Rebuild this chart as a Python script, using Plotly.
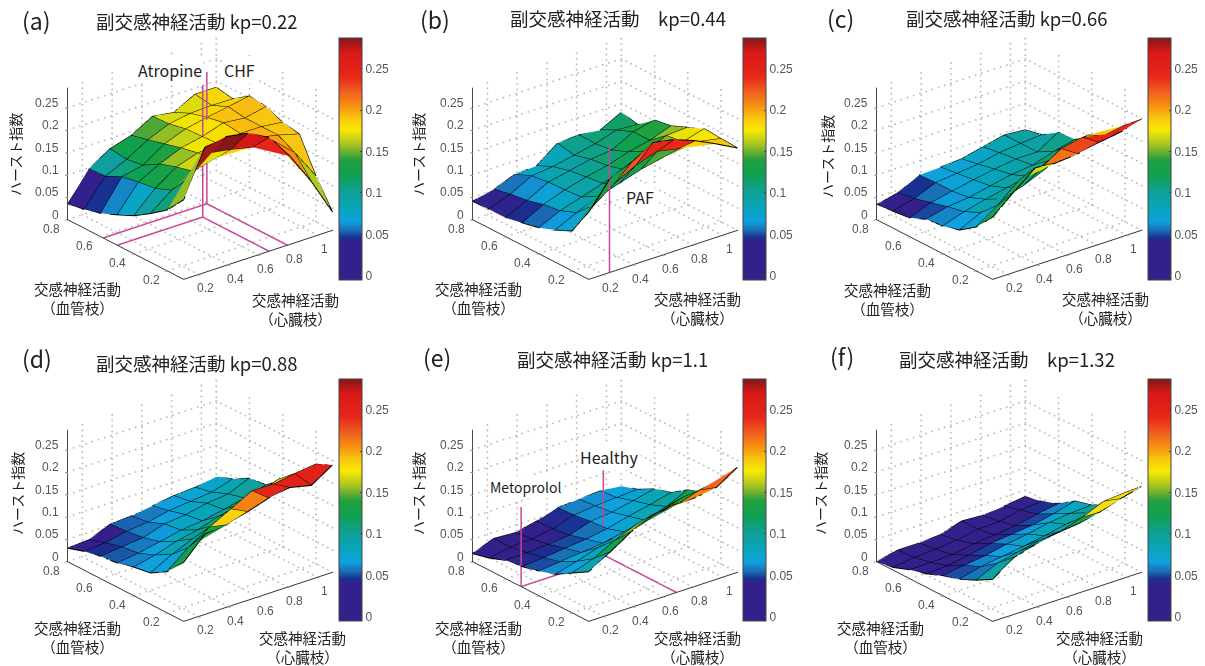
import plotly.graph_objects as go

W, H = 1205, 666
X_VALS = [0.1, 0.243, 0.386, 0.529, 0.671, 0.814, 0.957, 1.1]
Y_VALS = [0.8, 0.7, 0.6, 0.5, 0.4, 0.3, 0.2, 0.1]
X_TICKS = [0.2, 0.4, 0.6, 0.8, 1]
Y_TICKS = [0.2, 0.4, 0.6, 0.8]
Z_TICKS = [0, 0.05, 0.1, 0.15, 0.2, 0.25]
Z_TOP = 0.295
C_MIN, C_MAX = -0.005, 0.287

Z_A = [[.034,.098,.127,.141,.168,.161,.186,.186],
       [.042,.100,.122,.150,.170,.178,.180,.179],
       [.052,.118,.128,.160,.178,.188,.196,.205],
       [.068,.125,.150,.170,.180,.195,.190,.200],
       [.085,.130,.162,.178,.182,.190,.190,.184],
       [.109,.145,.172,.185,.195,.200,.190,.177],
       [.136,.190,.233,.225,.214,.212,.170,.102],
       [.178,.280,.288,.280,.255,.197,.125,.041]]
Z_B = [[.041,.052,.070,.073,.108,.111,.106,.130],
       [.042,.060,.085,.090,.100,.110,.125,.122],
       [.042,.065,.090,.100,.110,.115,.140,.151],
       [.050,.075,.092,.105,.115,.130,.140,.157],
       [.058,.080,.095,.110,.125,.150,.170,.173],
       [.072,.095,.115,.130,.145,.155,.175,.189],
       [.089,.130,.165,.190,.205,.195,.195,.186],
       [.150,.210,.230,.259,.250,.232,.209,.184]]
Z_C = [[.033,.044,.068,.070,.073,.084,.095,.091],
       [.038,.050,.070,.075,.080,.090,.095,.099],
       [.042,.060,.070,.080,.088,.095,.095,.124],
       [.058,.070,.075,.085,.095,.100,.115,.127],
       [.062,.078,.090,.100,.110,.130,.150,.152],
       [.072,.095,.110,.125,.145,.170,.190,.181],
       [.098,.130,.170,.180,.210,.220,.208,.216],
       [.139,.180,.218,.214,.218,.228,.235,.248]]
Z_D = [[.030,.033,.052,.055,.062,.069,.072,.080],
       [.042,.045,.055,.060,.070,.075,.080,.094],
       [.050,.055,.060,.075,.080,.090,.095,.115],
       [.054,.060,.070,.080,.085,.095,.105,.119],
       [.064,.075,.090,.100,.115,.125,.140,.150],
       [.070,.095,.115,.130,.145,.165,.185,.173],
       [.092,.130,.160,.185,.210,.209,.217,.223],
       [.132,.180,.184,.198,.213,.221,.210,.240]]
Z_E = [[.018,.036,.033,.043,.058,.061,.064,.059],
       [.027,.035,.038,.045,.060,.065,.068,.071],
       [.041,.042,.045,.050,.065,.070,.080,.091],
       [.046,.050,.055,.060,.068,.080,.090,.102],
       [.055,.060,.065,.070,.080,.090,.105,.127],
       [.067,.080,.095,.105,.115,.130,.145,.143],
       [.089,.105,.130,.150,.160,.165,.180,.190],
       [.111,.139,.169,.191,.198,.198,.205,.235]]
Z_F = [[.000,.010,.010,.013,.028,.025,.030,.036],
       [.006,.012,.015,.020,.028,.030,.040,.044],
       [.020,.020,.022,.030,.035,.040,.050,.058],
       [.030,.032,.040,.050,.055,.060,.070,.083],
       [.045,.052,.058,.068,.075,.085,.090,.093],
       [.056,.068,.075,.082,.090,.100,.110,.113],
       [.073,.095,.105,.115,.120,.135,.155,.159],
       [.094,.127,.140,.150,.155,.165,.180,.192]]

NEAR_A = [.155, .280, .285, .270, .245, .205, .160]
NEAR_B = [.130, .135, .225, .245, .240, .185, .190]
NEAR_C = [.125, .130, .170, .215, .230, .245, .245]
NEAR_D = [.125, .140, .185, .210, .245, .250, .250]
NEAR_E = [.090, .125, .150, .178, .190, .210, .220]
NEAR_F = [.095, .105, .110, .110, .130, .180, .180]

BAR_VALUES = [-.005,.040,.046,.055,.066,.080,.100,.122,.140,.150,.160,.176,.190,.205,.222,.240,.270,.287]
BAR_COLORS = ["#34208a","#34208a","#1a2f90","#1a6fb5","#10a0e0","#08a5bd","#0fa09a","#10a050","#20a040",
              "#70b030","#b0c820","#f8e800","#f8c810","#f89010","#f06020","#e82818","#d81818","#801818"]
COLORSCALE = [[(v - C_MIN) / (C_MAX - C_MIN), c] for v, c in zip(BAR_VALUES, BAR_COLORS)]

PANELS = [
    dict(z=Z_A, near=NEAR_A, dx=0, dy=0, letter="(a)", lp=(36, 20), title="副交感神経活動 kp=0.22", tp=(197, 21), zl=(15, 155),
         yl=(77, 289), xl=(295, 300), bar=(339, 38),
         pink=[[(.674, .5, 0), (.674, .5, Z_TOP)], [(.797, .585, 0), (.797, .585, Z_TOP)],
               [(.674, .5, 0), (.1, .5, 0)], [(.674, .5, 0), (.674, .1, 0)],
               [(.797, .585, 0), (.1, .585, 0)], [(.797, .585, 0), (.797, .1, 0)]],
         notes=[("Atropine", 170, 70, 16), ("CHF", 239, 70, 16)]),
    dict(z=Z_B, near=NEAR_B, dx=405, dy=0, letter="(b)", lp=(435, 19), title="副交感神経活動　kp=0.44", tp=(618, 18), zl=(418, 155),
         yl=(479, 289), xl=(697, 299), bar=(743, 38),
         pink=[[(.24, .1, 0), (.24, .1, .284)]],
         notes=[("PAF", 640, 197, 16)]),
    dict(z=Z_C, near=NEAR_C, dx=809, dy=0, letter="(c)", lp=(840, 18), title="副交感神経活動 kp=0.66", tp=(1007, 18), zl=(827, 157),
         yl=(887, 290), xl=(1105, 299), bar=(1148, 38), pink=[], notes=[]),
    dict(z=Z_D, near=NEAR_D, dx=0, dy=342, letter="(d)", lp=(37, 358), title="副交感神経活動 kp=0.88", tp=(197, 363), zl=(17, 494),
         yl=(77, 628), xl=(302, 638), bar=(339, 379), pink=[], notes=[]),
    dict(z=Z_E, near=NEAR_E, dx=405, dy=342, letter="(e)", lp=(437, 357), title="副交感神経活動 kp=1.1", tp=(612, 359), zl=(418, 494),
         yl=(479, 628), xl=(697, 638), bar=(743, 379),
         pink=[[(.1, .507, 0), (.1, .507, .178)], [(.1, .507, 0), (.45, .507, 0)],
               [(.69, .54, 0), (.69, .54, .19)], [(.69, .54, 0), (.69, .1, 0)]],
         notes=[("Healthy", 609, 457, 16), ("Metoprolol", 525, 487, 14)]),
    dict(z=Z_F, near=NEAR_F, dx=809, dy=342, letter="(f)", lp=(842, 356), title="副交感神経活動　kp=1.32", tp=(1007, 359), zl=(820, 494),
         yl=(880, 628), xl=(1099, 638), bar=(1148, 379), pink=[], notes=[]),
]

CENTER = (200, 159)
DOM_W, DOM_H = 320, 310
EYE_R = 2.0
EYE = dict(x=-.574 * EYE_R, y=-.717 * EYE_R, z=.415 * EYE_R)
JP = "Noto Sans CJK JP"
TICK_FONT = dict(family="Liberation Sans", size=12, color="#555")
fig = go.Figure()


def dotted(a, b, n=24):
    xs, ys, zs = [], [], []
    for t in range(n + 1):
        f = t / n
        xs.append(a[0] + (b[0] - a[0]) * f)
        ys.append(a[1] + (b[1] - a[1]) * f)
        zs.append(a[2] + (b[2] - a[2]) * f)
    return xs, ys, zs


def grid_points():
    x0, x1, y0, y1 = X_VALS[0], X_VALS[-1], Y_VALS[-1], Y_VALS[0]
    segs = []
    for v in X_TICKS:
        segs += [((v, y0, 0), (v, y1, 0)), ((v, y1, 0), (v, y1, Z_TOP))]
    for v in Y_TICKS:
        segs += [((x0, v, 0), (x1, v, 0)), ((x1, v, 0), (x1, v, Z_TOP))]
    for v in Z_TICKS:
        segs += [((x0, y1, v), (x1, y1, v)), ((x1, y0, v), (x1, y1, v))]
    xs, ys, zs = [], [], []
    for a, b in segs:
        sx, sy, sz = dotted(a, b)
        xs += sx; ys += sy; zs += sz
    return xs, ys, zs


def add_note(text, x, y, size, **kw):
    fig.add_annotation(x=x / W, y=1 - y / H, xref="paper", yref="paper", text=text, showarrow=False,
                       font=dict(family=JP, size=size, color="#222"), xanchor="center", yanchor="middle", **kw)


def scene_labels():
    out = []
    for v in X_TICKS:
        out.append(dict(x=v, y=Y_VALS[-1], z=0, text=str(v), showarrow=False, xshift=7, yshift=-14, font=TICK_FONT))
    for v in Y_TICKS:
        out.append(dict(x=X_VALS[0], y=v, z=0, text=str(v), showarrow=False, xshift=-16, yshift=-9, font=TICK_FONT))
    for v in Z_TICKS:
        out.append(dict(x=X_VALS[0], y=Y_VALS[0], z=v, text=str(v), showarrow=False, xanchor="right",
                        xshift=-6, yshift=5, font=TICK_FONT))
    return out


for i, p in enumerate(PANELS):
    sid = f"scene{i + 1}" if i else "scene"
    nr, nc = len(Y_VALS), len(X_VALS)
    vx, vy, vz, ti, tj, tk, inten = [], [], [], [], [], [], []
    for r in range(nr):
        for c in range(nc):
            vx.append(X_VALS[c]); vy.append(Y_VALS[r]); vz.append(p["z"][r][c])
    for r in range(nr - 1):
        for c in range(nc - 1):
            a, b, d, e = r * nc + c, r * nc + c + 1, (r + 1) * nc + c, (r + 1) * nc + c + 1
            if r == nr - 2:
                col = p["near"][c]
            elif r == nr - 3:
                col = p["z"][r][c]
            else:
                col = (p["z"][r][c] + p["z"][r + 1][c]) / 2
            ti += [a, a]; tj += [b, e]; tk += [e, d]; inten += [col, col]
    bx, by = p["bar"]
    fig.add_trace(go.Mesh3d(x=vx, y=vy, z=vz, i=ti, j=tj, k=tk, intensity=inten, intensitymode="cell",
                            colorscale=COLORSCALE, cmin=C_MIN, cmax=C_MAX, flatshading=True, scene=sid,
                            hoverinfo="skip",
                            lighting=dict(ambient=1, diffuse=0, specular=0, roughness=1, fresnel=0),
                            colorbar=dict(x=bx / W, xanchor="left", y=1 - by / H, yanchor="top", ypad=0, xpad=0,
                                          thicknessmode="pixels", thickness=23, lenmode="pixels", len=242,
                                          outlinecolor="#444", outlinewidth=1, ticks="inside", ticklen=2,
                                          tickvals=Z_TICKS, ticktext=[str(v) for v in Z_TICKS],
                                          tickfont=TICK_FONT)))
    wx, wy, wz = [], [], []
    for r in range(nr):
        wx += X_VALS + [None]; wy += [Y_VALS[r]] * nc + [None]; wz += p["z"][r] + [None]
    for c in range(nc):
        wx += [X_VALS[c]] * nr + [None]; wy += Y_VALS + [None]; wz += [row[c] for row in p["z"]] + [None]
    fig.add_trace(go.Scatter3d(x=wx, y=wy, z=wz, mode="lines", line=dict(color="#000", width=2),
                               hoverinfo="skip", showlegend=False, scene=sid))
    gx, gy, gz = grid_points()
    fig.add_trace(go.Scatter3d(x=gx, y=gy, z=gz, mode="markers", marker=dict(color="#bdbdbd", size=1.1),
                               hoverinfo="skip", showlegend=False, scene=sid))
    for seg in p["pink"]:
        fig.add_trace(go.Scatter3d(x=[s[0] for s in seg], y=[s[1] for s in seg], z=[s[2] for s in seg],
                                   mode="lines", line=dict(color="#c8479a", width=3),
                                   hoverinfo="skip", showlegend=False, scene=sid))
    cx, cy = CENTER[0] + p["dx"], CENTER[1] + p["dy"]
    ax = dict(showbackground=False, showgrid=False, zeroline=False, showspikes=False, showline=True,
              linecolor="#333", linewidth=2, ticks="outside", ticklen=3, tickcolor="#333", showticklabels=False,
              title=dict(text=""))
    fig.update_layout(**{sid: dict(
        domain=dict(x=[(cx - DOM_W / 2) / W, (cx + DOM_W / 2) / W],
                    y=[1 - (cy + DOM_H / 2) / H, 1 - (cy - DOM_H / 2) / H]),
        bgcolor="rgba(0,0,0,0)",
        aspectmode="manual", aspectratio=dict(x=1.23, y=1.2, z=.934),
        camera=dict(eye=EYE, up=dict(x=0, y=0, z=1), center=dict(x=0, y=0, z=0),
                    projection=dict(type="orthographic")),
        xaxis=dict(ax, range=[X_VALS[0], X_VALS[-1]], tickvals=X_TICKS),
        yaxis=dict(ax, range=[Y_VALS[-1], Y_VALS[0]], tickvals=Y_TICKS),
        zaxis=dict(ax, range=[0, Z_TOP], tickvals=Z_TICKS),
        annotations=scene_labels(),
    )})
    add_note(p["letter"], p["lp"][0], p["lp"][1], 23)
    add_note(p["title"], p["tp"][0], p["tp"][1], 18.5)
    add_note("ハースト指数", p["zl"][0], p["zl"][1], 14, textangle=-90)
    add_note("交感神経活動<br>（血管枝）", p["yl"][0], p["yl"][1] + 9, 14.5)
    add_note("交感神経活動<br>（心臓枝）", p["xl"][0], p["xl"][1] + 9, 14.5)
    for text, x, y, size in p["notes"]:
        add_note(text, x, y, size, bgcolor="#fff")

fig.update_layout(width=W, height=H, margin=dict(l=0, r=0, t=0, b=0), paper_bgcolor="#fff", showlegend=False)
fig.write_html("out.html", post_script="document.body.style.margin='0';", config=dict(displayModeBar=False))
